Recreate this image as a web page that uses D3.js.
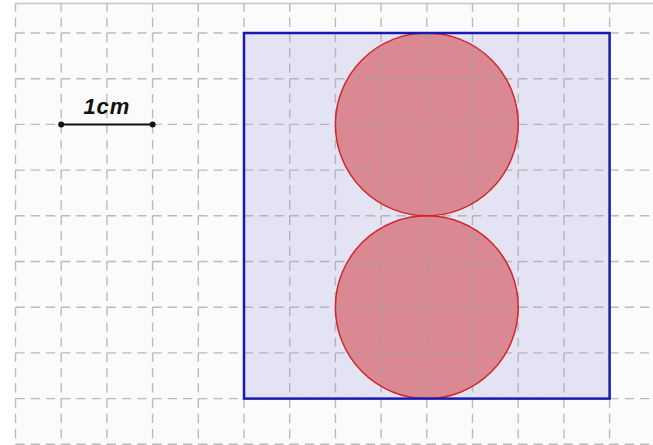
<!DOCTYPE html>
<html>
<head>
<meta charset="utf-8">
<script src="https://cdn.jsdelivr.net/npm/d3@7"></script>
<style>
  html, body { margin: 0; padding: 0; background: #ffffff; }
  svg { display: block; }
</style>
</head>
<body>
<div id="chart"></div>
<script>
// figure data, in cm (grid step is 0.5 cm)
const gridXTicks = [0, 0.5, 1, 1.5, 2, 2.5, 3, 3.5, 4, 4.5, 5, 5.5, 6, 6.5, 7];
const gridYTicks = [0, 0.5, 1, 1.5, 2, 2.5, 3, 3.5, 4, 4.5];
const squareCorner = [2.5, 0];
const squareSide = 4;
const circleCenters = [[4.5, 1], [4.5, 3]];
const circleRadius = 1;
const scaleBar = [[0.5, 1], [1.5, 1]];
const scaleLabel = "1cm";

const width = 653;
const height = 445;
const cm = 91.4;
const x = d3.scaleLinear().domain([0, 1]).range([15.5, 15.5 + cm]);
const y = d3.scaleLinear().domain([0, 1]).range([33, 33 + cm]);
const step = cm / 2;
const paperTop = 3.5;

const svg = d3.select("#chart")
  .append("svg")
  .attr("width", width)
  .attr("height", height);

svg.append("defs").append("clipPath")
  .attr("id", "grid-clip")
  .append("rect")
  .attr("x", x(0) - 2)
  .attr("y", paperTop)
  .attr("width", width)
  .attr("height", height);

// paper background
svg.append("rect")
  .attr("x", x(0))
  .attr("y", paperTop)
  .attr("width", width - x(0))
  .attr("height", height - paperTop)
  .attr("fill", "#fafbfa");

// square
svg.append("rect")
  .attr("x", x(squareCorner[0]))
  .attr("y", y(squareCorner[1]))
  .attr("width", x(squareSide) - x(0))
  .attr("height", y(squareSide) - y(0))
  .attr("fill", "#e3e3f4");

// circles fill
svg.selectAll(".disc")
  .data(circleCenters)
  .enter().append("circle")
  .attr("class", "disc")
  .attr("cx", d => x(d[0]))
  .attr("cy", d => y(d[1]))
  .attr("r", x(circleRadius) - x(0))
  .attr("fill", "#da8993");

// dashed grid, three dashes per cell
const period = step / 3;
const dashes = `${period * 0.6},${period * 0.4}`;
const grid = svg.append("g").attr("clip-path", "url(#grid-clip)");

grid.selectAll(".vline")
  .data(gridXTicks)
  .enter().append("line")
  .attr("x1", d => x(d))
  .attr("x2", d => x(d))
  .attr("y1", y(0) - step)
  .attr("y2", height + 10)
  .attr("stroke", "#a0a0a0")
  .attr("stroke-opacity", 0.7)
  .attr("stroke-width", 1.4)
  .attr("stroke-dasharray", dashes);

grid.selectAll(".hline")
  .data(gridYTicks)
  .enter().append("line")
  .attr("x1", x(0))
  .attr("x2", width + 10)
  .attr("y1", d => y(d))
  .attr("y2", d => y(d))
  .attr("stroke", "#a0a0a0")
  .attr("stroke-opacity", 0.7)
  .attr("stroke-width", 1.4)
  .attr("stroke-dasharray", dashes);

// top border
svg.append("line")
  .attr("x1", x(0))
  .attr("x2", width)
  .attr("y1", paperTop)
  .attr("y2", paperTop)
  .attr("stroke", "#c4c4c4")
  .attr("stroke-width", 1.5);

// circle outlines
svg.selectAll(".ring")
  .data(circleCenters)
  .enter().append("circle")
  .attr("class", "ring")
  .attr("cx", d => x(d[0]))
  .attr("cy", d => y(d[1]))
  .attr("r", x(circleRadius) - x(0))
  .attr("fill", "none")
  .attr("stroke", "#d2262c")
  .attr("stroke-width", 1.5);

// square outline
svg.append("rect")
  .attr("x", x(squareCorner[0]))
  .attr("y", y(squareCorner[1]))
  .attr("width", x(squareSide) - x(0))
  .attr("height", y(squareSide) - y(0))
  .attr("fill", "none")
  .attr("stroke", "#1a1aae")
  .attr("stroke-width", 2.5);

// scale bar
svg.append("line")
  .attr("x1", x(scaleBar[0][0]))
  .attr("x2", x(scaleBar[1][0]))
  .attr("y1", y(scaleBar[0][1]))
  .attr("y2", y(scaleBar[1][1]))
  .attr("stroke", "#111")
  .attr("stroke-width", 2);

svg.selectAll(".bar-end")
  .data(scaleBar)
  .enter().append("circle")
  .attr("class", "bar-end")
  .attr("cx", d => x(d[0]))
  .attr("cy", d => y(d[1]))
  .attr("r", 3)
  .attr("fill", "#111");

svg.append("text")
  .attr("x", (x(scaleBar[0][0]) + x(scaleBar[1][0])) / 2)
  .attr("y", y(scaleBar[0][1]) - 10)
  .attr("text-anchor", "middle")
  .style("font-family", "'Liberation Sans', Arial, sans-serif")
  .style("font-size", "22px")
  .style("font-weight", "bold")
  .style("font-style", "italic")
  .style("letter-spacing", "1px")
  .attr("fill", "#111")
  .text(scaleLabel);
</script>
</body>
</html>
